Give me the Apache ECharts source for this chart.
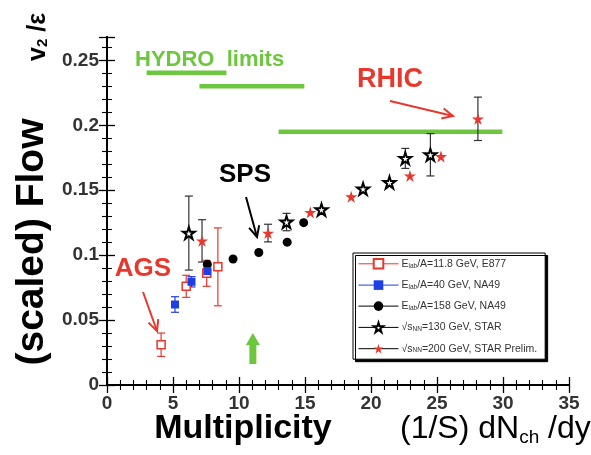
<!DOCTYPE html>
<html><head><meta charset="utf-8">
<script src="https://cdn.jsdelivr.net/npm/echarts@6/dist/echarts.min.js"></script>
<style>html,body{margin:0;padding:0;background:#fff}#c{width:591px;height:455px}</style>
</head><body><div id="c"></div>
<script>
// ---- data ----
const seriesNames = ['E877', 'NA49 40', 'NA49 158', 'STAR 130', 'STAR 200'];
const e877X = [4.1, 6.0, 7.55, 8.4];
const e877Y = [0.031, 0.076, 0.086, 0.091];
const e877Err = [0.009, 0.0085, 0.01, 0.030];
const na40X = [5.15, 6.4, 7.6];
const na40Y = [0.062, 0.0795, 0.0877];
const na40Err = [0.006, 0.004, 0.004];
const na158X = [7.6, 9.55, 11.5, 13.65, 14.9];
const na158Y = [0.093, 0.097, 0.102, 0.110, 0.125];
const star130X = [6.2, 13.6, 16.25, 19.4, 21.4, 22.6, 24.5];
const star130Y = [0.117, 0.1255, 0.135, 0.151, 0.156, 0.1745, 0.1773];
const star130Err = [0.0285, 0.0067, 0, 0, 0, 0.0077, 0.0163];
const star200X = [7.2, 12.2, 15.4, 18.5, 22.95, 25.3, 28.1];
const star200Y = [0.111, 0.117, 0.133, 0.145, 0.161, 0.176, 0.205];
const star200Err = [0.0163, 0.0068, 0, 0, 0, 0, 0.0167];
// hydro limit segments: [xStart, xEnd, y]
const hydroX1 = [3.0, 7.0, 13.0];
const hydroX2 = [9.05, 14.95, 29.95];
const hydroY = [0.2405, 0.230, 0.195];
const xMin = 0, xMax = 35, xStep = 5;
const yMin = 0, yMax = 0.268, yStep = 0.05;
const arrowX = 11.05; // green marker arrow position

const RED = '#e8372c', BLUE = '#1f3fe6', GREEN = '#6cc63e', DARK = '#333';
const STAR = 'path://M50 0 L61.23 34.55 L97.55 34.55 L68.17 55.9 L79.39 90.45 L50 69.1 L20.61 90.45 L31.83 55.9 L2.45 34.55 L38.77 34.55 Z';
const FONT = '"Liberation Sans", Arial, sans-serif';

const zip = (xs, ys) => xs.map((x, i) => [x, ys[i]]);
const zip3 = (xs, ys, es) => xs.map((x, i) => [x, ys[i], es[i]]).filter(d => d[2] > 0);

function errSeries(data, color) {
  return {
    type: 'custom', silent: true, z: 2, data: data,
    renderItem: function (params, api) {
      const x = api.value(0), y = api.value(1), e = api.value(2);
      const t = api.coord([x, y + e]), b = api.coord([x, y - e]);
      const w = 4;
      const st = { stroke: color, lineWidth: 1.2 };
      return { type: 'group', children: [
        { type: 'line', shape: { x1: t[0], y1: t[1], x2: b[0], y2: b[1] }, style: st },
        { type: 'line', shape: { x1: t[0] - w, y1: t[1], x2: t[0] + w, y2: t[1] }, style: st },
        { type: 'line', shape: { x1: b[0] - w, y1: b[1], x2: b[0] + w, y2: b[1] }, style: st }
      ] };
    }
  };
}

function ptSeries(name, data, symbol, size, itemStyle, lineColor) {
  return {
    name: name, type: 'line', data: data, symbol: symbol, symbolSize: size,
    showSymbol: true, showAllSymbol: true, z: 5,
    itemStyle: itemStyle,
    lineStyle: { color: lineColor, width: 1, opacity: 0 },
    emphasis: { disabled: true }
  };
}

function arrow(x1, y1, x2, y2, color) {
  const ang = Math.atan2(y2 - y1, x2 - x1), L = 12, a = 0.45;
  const p1 = [x2 - L * Math.cos(ang - a), y2 - L * Math.sin(ang - a)];
  const p2 = [x2 - L * Math.cos(ang + a), y2 - L * Math.sin(ang + a)];
  return { type: 'group', children: [
    { type: 'line', shape: { x1: x1, y1: y1, x2: x2, y2: y2 }, style: { stroke: color, lineWidth: 2 } },
    { type: 'polyline', shape: { points: [p1, [x2, y2], p2] }, style: { stroke: color, lineWidth: 2, fill: null } }
  ] };
}

const chart = echarts.init(document.getElementById('c'), null, { renderer: 'canvas' });

const axisBase = {
  type: 'value',
  axisLine: { show: true, lineStyle: { color: '#000', width: 2 } },
  axisTick: { show: true, inside: true, length: 8, lineStyle: { color: '#000', width: 1.3 } },
  minorTick: { show: true, splitNumber: 5, length: 5, lineStyle: { color: '#000', width: 1.1 } },
  splitLine: { show: false }, minorSplitLine: { show: false }
};

const legendNames = {
  'E877': 'E{sub|lab}/A=11.8 GeV, E877',
  'NA49 40': 'E{sub|lab}/A=40 GeV, NA49',
  'NA49 158': 'E{sub|lab}/A=158 GeV, NA49',
  'STAR 130': '√s{sub|NN}=130 GeV, STAR',
  'STAR 200': '√s{sub|NN}=200 GeV, STAR Prelim.'
};

const option = {
  animation: false,
  backgroundColor: '#fff',
  grid: { left: 107, right: 22, top: 37, bottom: 70, containLabel: false },
  xAxis: [
    Object.assign({}, axisBase, { min: xMin, max: xMax, interval: xStep, position: 'bottom',
      axisLabel: { show: true, margin: 9, fontSize: 19, fontWeight: 'bold', color: DARK, fontFamily: FONT } }),
    Object.assign({}, axisBase, { min: xMin, max: xMax, interval: xStep, position: 'top',
      axisLabel: { show: false } })
  ],
  yAxis: [
    Object.assign({}, axisBase, { min: yMin, max: yMax, interval: yStep, position: 'left',
      axisLabel: { show: true, margin: 8, fontSize: 19, fontWeight: 'bold', color: DARK, fontFamily: FONT, showMaxLabel: false,
        formatter: v => (Math.abs(v / yStep - Math.round(v / yStep)) < 1e-6 ? String(+v.toFixed(2)) : '') } }),
    Object.assign({}, axisBase, { min: yMin, max: yMax, interval: yStep, position: 'right',
      axisLabel: { show: false } })
  ],
  legend: {
    orient: 'vertical', left: 353, top: 253,
    data: seriesNames,
    itemWidth: 40, itemHeight: 12, itemGap: 10,
    padding: [5, 8, 5, 5],
    backgroundColor: '#fff', borderColor: '#000', borderWidth: 1,
    shadowColor: '#000', shadowBlur: 0, shadowOffsetX: 2.5, shadowOffsetY: 2.5,
    lineStyle: { width: 1, opacity: 1 },
    selectedMode: false,
    formatter: n => legendNames[n],
    textStyle: { fontSize: 10.5, color: DARK, fontFamily: FONT, padding: [0, 0, 0, -2],
      rich: { sub: { fontSize: 6.5, color: DARK, verticalAlign: 'bottom', padding: [4, 0, 0, 0], fontFamily: FONT } } }
  },
  series: [
    {
      type: 'custom', silent: true, z: 1,
      data: hydroX1.map((x, i) => [x, hydroX2[i], hydroY[i]]),
      renderItem: function (params, api) {
        const a = api.coord([api.value(0), api.value(2)]), b = api.coord([api.value(1), api.value(2)]);
        return { type: 'line', shape: { x1: a[0], y1: a[1], x2: b[0], y2: b[1] }, style: { stroke: GREEN, lineWidth: 4.5 } };
      }
    },
    errSeries(zip3(e877X, e877Y, e877Err), RED),
    errSeries(zip3(na40X, na40Y, na40Err), BLUE),
    errSeries(zip3(star130X, star130Y, star130Err), DARK),
    errSeries(zip3(star200X, star200Y, star200Err), DARK),
    ptSeries('NA49 158', zip(na158X, na158Y), 'circle', 9, { color: '#000' }, '#000'),
    ptSeries('E877', zip(e877X, e877Y), 'rect', 8, { color: '#fff', borderColor: RED, borderWidth: 1.5 }, RED),
    ptSeries('NA49 40', zip(na40X, na40Y), 'rect', 8, { color: BLUE }, BLUE),
    ptSeries('STAR 130', zip(star130X, star130Y), STAR, 12, { color: '#fff', borderColor: '#000', borderWidth: 2 }, '#000'),
    ptSeries('STAR 200', zip(star200X, star200Y), STAR, 12, { color: RED }, '#000'),
    {
      type: 'custom', silent: true, z: 3, data: [[arrowX]],
      renderItem: function (params, api) {
        const p = api.coord([api.value(0), 0]);
        const cx = p[0], yb = 364, yt = 333, sw = 3.5, hw = 7, hh = 12;
        return { type: 'polygon', shape: { points: [
          [cx - sw, yb], [cx - sw, yt + hh], [cx - hw, yt + hh], [cx, yt], [cx + hw, yt + hh], [cx + sw, yt + hh], [cx + sw, yb]
        ] }, style: { fill: GREEN } };
      }
    }
  ],
  graphic: [
    { type: 'text', left: 135, top: 49, style: { text: 'HYDRO  limits', font: 'bold 22px ' + FONT, fill: GREEN } },
    { type: 'text', x: 390, y: 80, style: { text: 'RHIC', font: 'bold 27px ' + FONT, fill: RED, textAlign: 'center', textVerticalAlign: 'middle' } },
    arrow(390, 101, 453, 116, RED),
    { type: 'text', x: 245, y: 175, style: { text: 'SPS', font: 'bold 26px ' + FONT, fill: '#000', textAlign: 'center', textVerticalAlign: 'middle' } },
    arrow(246, 197, 257, 237, '#000'),
    { type: 'text', x: 143, y: 269, style: { text: 'AGS', font: 'bold 26px ' + FONT, fill: RED, textAlign: 'center', textVerticalAlign: 'middle' } },
    arrow(143, 292, 157, 331, RED),
    { type: 'text', x: 32, y: 242, rotation: Math.PI / 2,
      style: { text: '(scaled) Flow', font: 'bold 39px ' + FONT, fill: '#000', textAlign: 'center', textVerticalAlign: 'middle' } },
    { type: 'text', x: 38, y: 37, rotation: Math.PI / 2,
      style: { text: 'v{sub|2} /ε', font: 'bold 25px ' + FONT, fill: '#000', textAlign: 'center', textVerticalAlign: 'middle',
        rich: { sub: { font: 'bold 15px ' + FONT, fill: '#000', verticalAlign: 'bottom', padding: [10, 0, 0, 0] } } } },
    { type: 'text', x: 243, y: 429,
      style: { text: 'Multiplicity', font: 'bold 34px ' + FONT, fill: '#000', textAlign: 'center', textVerticalAlign: 'middle' } },
    { type: 'text', x: 400, y: 429,
      style: { text: '(1/S) dN{sub|ch} /dy', font: '32px ' + FONT, fill: '#000', textAlign: 'left', textVerticalAlign: 'middle',
        rich: { sub: { font: '19px ' + FONT, fill: '#000', verticalAlign: 'bottom', padding: [18, 0, 0, 0] } } } }
  ]
};
chart.setOption(option);
</script></body></html>
